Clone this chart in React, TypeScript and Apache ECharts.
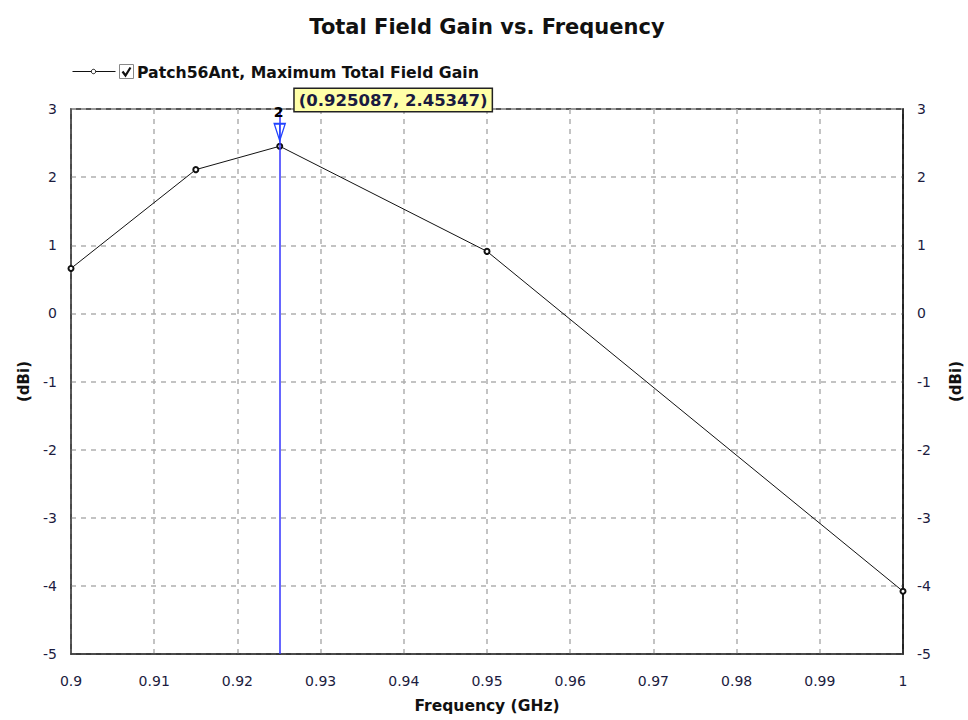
import React, { useEffect, useRef } from "react";
import * as echarts from "echarts";

const freqs = [0.9, 0.915, 0.925087, 0.95, 1.0];
const gains = [0.66, 2.11, 2.45347, 0.91, -4.08];
const markerX = 0.925087;
const markerY = 2.45347;
const xTicksMin = 0.9;
const xTicksMax = 1.0;
const yMin = -5;
const yMax = 3;

const FONT = "DejaVu Sans";
const LABEL_COLOR = "#1c1c40";

export default function App() {
  const ref = useRef<HTMLDivElement>(null);
  useEffect(() => {
    const chart = echarts.init(ref.current!, undefined, { renderer: "svg" });
    const data = freqs.map((f, i) => [f, gains[i]]);
    chart.setOption({
      animation: false,
      backgroundColor: "#ffffff",
      title: {
        text: "Total Field Gain vs. Frequency",
        left: 482,
        textAlign: "center",
        top: 11,
        textStyle: { fontFamily: FONT, fontWeight: "bold", fontSize: 21, color: "#111111" },
      },
      legend: {
        left: 70,
        top: 64,
        itemWidth: 62,
        itemHeight: 14,
        itemGap: 0,
        padding: 0,
        data: [
          {
            name: "Patch56Ant, Maximum Total Field Gain",
            icon: "rect",
            itemStyle: { color: "rgba(0,0,0,0)", borderWidth: 0, opacity: 0 },
            lineStyle: { opacity: 0, width: 0 },
          },
        ],
        textStyle: {
          fontFamily: FONT,
          fontWeight: "bold",
          fontSize: 15.7,
          color: "#111111",
        },
      },
      graphic: [
        {
          type: "group",
          left: 70,
          top: 64,
          children: [
            { type: "line", shape: { x1: 0, y1: 7, x2: 43, y2: 7 }, style: { stroke: "#111111", lineWidth: 1 } },
            { type: "circle", shape: { cx: 21, cy: 7, r: 2.2 }, style: { fill: "#ffffff", stroke: "#111111", lineWidth: 1 } },
            { type: "rect", shape: { x: 47, y: 0, width: 14, height: 14 }, style: { fill: "#ffffff", stroke: "#888888", lineWidth: 1 } },
            { type: "polyline", shape: { points: [[50, 7], [53, 11], [58, 3]] }, style: { stroke: "#111111", lineWidth: 2.2, fill: "none" } },
          ],
        },
      ],
      grid: {
        left: 71,
        right: 65,
        top: 109,
        bottom: 66,
        containLabel: false,
        outerBoundsMode: "none",
        show: true,
        borderColor: "#222222",
        borderWidth: 1.5,
      },
      xAxis: {
        type: "value",
        min: xTicksMin,
        max: xTicksMax,
        interval: 0.01,
        name: "Frequency (GHz)",
        nameLocation: "middle",
        nameGap: 44,
        nameTextStyle: { fontFamily: FONT, fontWeight: "bold", fontSize: 15.5, color: "#111111" },
        axisLine: { show: true, onZero: false, lineStyle: { color: "#333333", width: 1.5 } },
        axisTick: { show: false },
        axisLabel: { margin: 20, fontFamily: FONT, fontSize: 14, color: LABEL_COLOR },
        splitLine: { show: true, lineStyle: { color: "#b0b0b0", type: [5, 5], width: 1.5 } },
      },
      yAxis: [
        {
          type: "value",
          min: yMin,
          max: yMax,
          interval: 1,
          position: "left",
          name: "(dBi)",
          nameLocation: "middle",
          nameRotate: 90,
          nameGap: 40,
          nameTextStyle: { fontFamily: FONT, fontWeight: "bold", fontSize: 15, color: "#111111" },
          axisLine: { show: true, onZero: false, lineStyle: { color: "#444444", width: 1.5 } },
          axisTick: { show: false },
          axisLabel: { margin: 14, fontFamily: FONT, fontSize: 14, color: LABEL_COLOR },
          splitLine: { show: true, lineStyle: { color: "#b0b0b0", type: [5, 5], width: 1.5 } },
        },
        {
          type: "value",
          min: yMin,
          max: yMax,
          interval: 1,
          position: "right",
          name: "(dBi)",
          nameLocation: "middle",
          nameRotate: 90,
          nameGap: 45,
          nameTextStyle: { fontFamily: FONT, fontWeight: "bold", fontSize: 15, color: "#111111" },
          axisLine: { show: true, onZero: false, lineStyle: { color: "#111111", width: 1.5 } },
          axisTick: { show: false },
          axisLabel: { margin: 14, fontFamily: FONT, fontSize: 14, color: LABEL_COLOR },
          splitLine: { show: false },
        },
      ],
      series: [
        {
          name: "Patch56Ant, Maximum Total Field Gain",
          type: "line",
          data,
          symbol: "emptyCircle",
          symbolSize: 5,
          lineStyle: { color: "#111111", width: 1 },
          itemStyle: { color: "#111111", borderColor: "#111111", borderWidth: 1 },
          markLine: {
            silent: true,
            symbol: "none",
            label: { show: false },
            lineStyle: { color: "#3333ff", type: "solid", width: 1.5 },
            data: [[{ coord: [markerX, yMin] }, { coord: [markerX, yMax] }]],
          },
          markPoint: {
            silent: true,
            data: [
              {
                coord: [markerX, markerY],
                symbol: "path://M0,0 L12,0 L6,16 Z M6,0 L6,16",
                symbolSize: [11, 17],
                symbolOffset: [0, -14],
                itemStyle: { color: "rgba(0,0,0,0)", borderColor: "#2244ff", borderWidth: 1.5 },
                label: { show: false },
              },
              {
                coord: [markerX, yMax],
                symbol: "circle",
                symbolSize: 0,
                label: {
                  show: true,
                  position: "inside",
                  formatter: "2",
                  offset: [-1, 3],
                  fontFamily: FONT,
                  fontWeight: 900,
                  fontSize: 14,
                  color: "#000000",
                },
              },
              {
                coord: [markerX, yMax],
                symbol: "circle",
                symbolSize: 0,
                label: {
                  show: true,
                  position: "right",
                  distance: 0,
                  offset: [15, -9],
                  formatter: "(" + markerX + ", " + markerY + ")",
                  fontFamily: FONT,
                  fontWeight: "bold",
                  fontSize: 16.5,
                  color: "#1a1a40",
                  backgroundColor: "#ffffa8",
                  borderColor: "#222222",
                  borderWidth: 1.5,
                  padding: [3, 4, 2, 4],
                },
              },
            ],
          },
        },
      ],
    });
    return () => chart.dispose();
  }, []);
  return <div ref={ref} style={{ width: 968, height: 720, position: "absolute", left: 0, top: 0 }} />;
}
